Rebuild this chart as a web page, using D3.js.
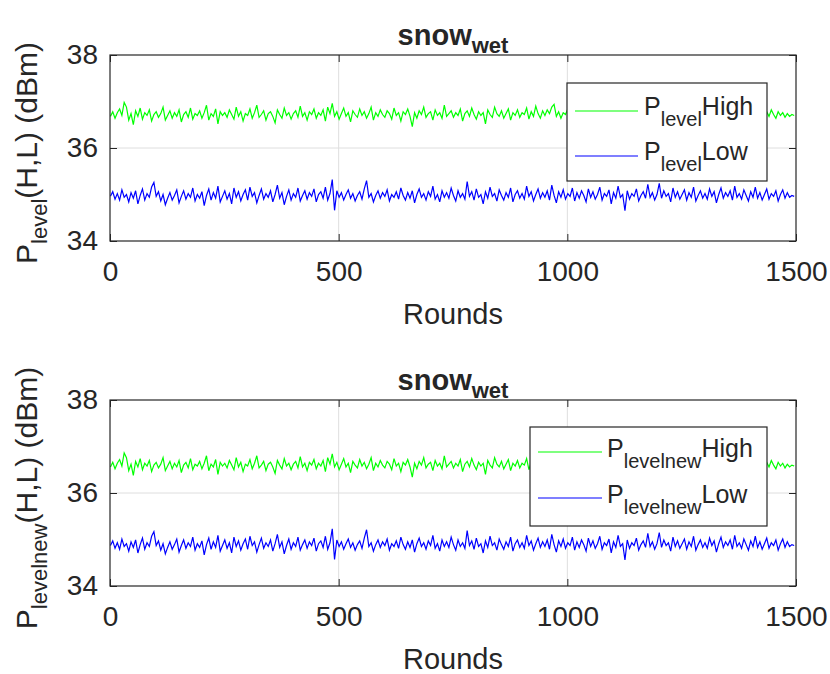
<!DOCTYPE html>
<html><head><meta charset="utf-8">
<script src="https://cdn.jsdelivr.net/npm/d3@7"></script>
<style>
body{margin:0;background:#fff}
text{font-family:"Liberation Sans",Arial,Helvetica,sans-serif;fill:#262626}
</style>
</head><body>
<svg id="chart" width="830" height="674"></svg>
<script>
// ---------- DATA (one sample every 5 rounds) ----------
const xTicks = [0, 500, 1000, 1500];
const yTicks = [34, 36, 38];
const titleMain = "snow", titleSub = "wet";
const xLabel = "Rounds";

const highTop = [
36.68,36.78,36.64,36.76,36.84,36.70,36.98,36.88,36.60,36.74,
36.50,36.80,36.68,36.86,36.62,36.76,36.70,36.82,36.58,36.72,
36.78,36.66,36.74,36.88,36.60,36.70,36.80,36.64,36.76,36.68,
36.82,36.56,36.72,36.78,36.66,36.86,36.62,36.74,36.70,36.80,
36.64,36.76,36.92,36.60,36.74,36.68,36.84,36.52,36.78,36.70,
36.76,36.66,36.82,36.72,36.62,36.88,36.68,36.78,36.58,36.74,
36.70,36.84,36.64,36.76,36.92,36.66,36.72,36.80,36.60,36.74,
36.78,36.68,36.54,36.82,36.72,36.64,36.86,36.70,36.76,36.62,
36.74,36.80,36.66,36.90,36.68,36.76,36.60,36.78,36.72,36.84,
36.64,36.76,36.70,36.82,36.58,36.88,36.74,36.96,36.68,36.78,
36.62,36.74,36.86,36.68,36.76,36.56,36.80,36.72,36.66,36.84,
36.70,36.78,36.64,36.74,36.88,36.60,36.76,36.68,36.82,36.72,
36.66,36.80,36.74,36.62,36.86,36.70,36.76,36.58,36.78,36.72,
36.84,36.68,36.46,36.76,36.64,36.80,36.72,36.88,36.66,36.74,
36.78,36.60,36.82,36.70,36.76,36.64,36.92,36.68,36.74,36.80,
36.66,36.76,36.70,36.84,36.58,36.74,36.80,36.68,36.86,36.72,
36.62,36.78,36.70,36.76,36.52,36.82,36.72,36.66,36.88,36.74,
36.68,36.80,36.64,36.74,36.84,36.60,36.76,36.70,36.82,36.66,
36.76,36.72,36.86,36.62,36.78,36.68,36.90,36.74,36.64,36.80,
36.70,36.82,36.74,36.88,36.94,36.68,36.78,36.64,36.76,36.72,
36.84,36.60,36.74,36.68,36.80,36.70,36.76,36.54,36.82,36.72,
36.66,36.78,36.72,36.86,36.62,36.76,36.68,36.80,36.74,36.64,
36.82,36.70,36.76,36.60,36.88,36.72,36.78,36.66,36.74,36.84,
36.68,36.76,36.62,36.80,36.72,36.86,36.64,36.74,36.78,36.70,
36.80,36.66,36.74,36.84,36.58,36.76,36.70,36.82,36.68,36.78,
36.72,36.88,36.64,36.76,36.70,36.80,36.62,36.74,36.86,36.68,
36.76,36.70,36.82,36.60,36.78,36.72,36.84,36.66,36.74,36.80,
36.68,36.76,36.64,36.86,36.72,36.78,36.62,36.82,36.70,36.74,
36.80,36.66,36.76,36.70,36.84,36.60,36.74,36.78,36.68,36.82,
36.72,36.64,36.78,36.70,36.76,36.66,36.74,36.68,36.72,36.70];

const lowTop = [
34.96,35.06,34.90,35.02,34.88,35.10,34.94,35.00,34.84,35.04,
34.92,35.08,34.80,34.98,35.12,34.88,35.02,34.94,35.16,35.26,
34.96,35.06,34.86,35.00,34.78,34.92,35.04,34.88,34.98,35.10,
34.82,34.96,35.08,34.90,35.02,34.94,35.14,34.86,35.00,34.92,
35.06,34.76,34.98,35.12,34.88,35.04,34.92,35.18,34.84,34.96,
35.08,34.90,35.02,34.80,35.14,34.94,35.06,34.86,35.00,35.10,
34.88,35.16,34.96,35.04,34.82,34.98,35.12,34.90,35.02,34.94,
35.08,34.84,35.00,35.20,34.92,35.04,34.78,34.96,35.10,34.88,
35.02,34.94,35.14,34.86,34.98,35.08,34.90,35.04,34.96,35.12,
34.84,35.00,35.06,34.92,35.16,34.88,35.02,35.32,34.66,35.08,
34.94,35.04,34.88,35.00,35.10,34.92,35.02,34.86,34.98,35.06,
34.90,35.12,35.30,34.94,35.02,34.84,34.98,35.08,34.92,35.04,
34.96,35.10,34.86,35.00,34.94,35.06,34.90,35.14,34.98,34.88,
35.04,34.92,35.08,34.82,35.00,35.12,34.94,35.02,34.88,35.06,
34.96,35.18,34.90,35.00,34.84,35.08,34.94,35.04,34.92,35.14,
34.98,34.86,35.08,34.94,35.02,34.90,35.28,34.96,35.06,34.88,
35.12,34.94,35.00,34.80,35.06,34.92,35.16,34.96,35.02,34.86,
35.10,34.98,34.88,35.04,34.94,35.14,34.84,35.00,35.08,34.92,
35.02,34.90,35.18,34.96,35.06,34.86,35.00,35.12,34.92,35.04,
34.94,35.08,34.88,35.20,34.98,34.82,35.06,34.94,35.10,34.90,
35.02,34.96,35.14,34.86,35.04,34.92,35.08,34.98,34.84,35.12,
34.94,35.06,34.90,35.00,35.16,34.88,35.02,34.96,35.10,34.80,
35.04,34.92,35.18,34.94,35.00,34.65,35.08,34.90,35.02,34.96,
35.12,34.86,34.98,35.06,34.92,35.22,34.94,35.04,34.88,35.00,
35.24,34.92,35.08,34.96,35.02,34.84,35.14,34.94,35.06,34.90,
35.00,35.10,34.88,35.04,34.94,35.16,34.86,34.98,35.08,34.92,
35.02,34.90,35.12,34.96,35.06,34.82,35.00,35.14,34.92,35.04,
34.96,35.08,34.88,35.18,34.94,35.02,34.90,35.10,34.98,34.86,
35.06,34.94,35.16,34.92,35.04,34.88,35.00,35.12,34.90,35.02,
34.96,35.08,34.86,35.00,35.10,34.92,35.04,34.94,34.98,34.96];

const highBottom = [
36.56,36.66,36.52,36.64,36.72,36.58,36.86,36.76,36.48,36.62,
36.38,36.68,36.56,36.74,36.50,36.64,36.58,36.70,36.46,36.60,
36.66,36.54,36.62,36.76,36.48,36.58,36.68,36.52,36.64,36.56,
36.70,36.44,36.60,36.66,36.54,36.74,36.50,36.62,36.58,36.68,
36.52,36.64,36.80,36.48,36.62,36.56,36.72,36.40,36.66,36.58,
36.64,36.54,36.70,36.60,36.50,36.76,36.56,36.66,36.46,36.62,
36.58,36.72,36.52,36.64,36.80,36.54,36.60,36.68,36.48,36.62,
36.66,36.56,36.42,36.70,36.60,36.52,36.74,36.58,36.64,36.50,
36.62,36.68,36.54,36.78,36.56,36.64,36.48,36.66,36.60,36.72,
36.52,36.64,36.58,36.70,36.46,36.76,36.62,36.84,36.56,36.66,
36.50,36.62,36.74,36.56,36.64,36.44,36.68,36.60,36.54,36.72,
36.58,36.66,36.52,36.62,36.76,36.48,36.64,36.56,36.70,36.60,
36.54,36.68,36.62,36.50,36.74,36.58,36.64,36.46,36.66,36.60,
36.72,36.56,36.34,36.64,36.52,36.68,36.60,36.76,36.54,36.62,
36.66,36.48,36.70,36.58,36.64,36.52,36.80,36.56,36.62,36.68,
36.54,36.64,36.58,36.72,36.46,36.62,36.68,36.56,36.74,36.60,
36.50,36.66,36.58,36.64,36.40,36.70,36.60,36.54,36.76,36.62,
36.56,36.68,36.52,36.62,36.72,36.48,36.64,36.58,36.70,36.54,
36.64,36.60,36.74,36.50,36.66,36.56,36.78,36.62,36.52,36.68,
36.58,36.70,36.62,36.76,36.82,36.56,36.66,36.52,36.64,36.60,
36.72,36.48,36.62,36.56,36.68,36.58,36.64,36.42,36.70,36.60,
36.54,36.66,36.60,36.74,36.50,36.64,36.56,36.68,36.62,36.52,
36.70,36.58,36.64,36.48,36.76,36.60,36.66,36.54,36.62,36.72,
36.56,36.64,36.50,36.68,36.60,36.74,36.52,36.62,36.66,36.58,
36.68,36.54,36.62,36.72,36.46,36.64,36.58,36.70,36.56,36.66,
36.60,36.76,36.52,36.64,36.58,36.68,36.50,36.62,36.74,36.56,
36.64,36.58,36.70,36.48,36.66,36.60,36.72,36.54,36.62,36.68,
36.56,36.64,36.52,36.74,36.60,36.66,36.50,36.70,36.58,36.62,
36.68,36.54,36.64,36.58,36.72,36.48,36.62,36.66,36.56,36.70,
36.60,36.52,36.66,36.58,36.64,36.54,36.62,36.56,36.60,36.58];

const lowBottom = [
34.87,34.97,34.81,34.93,34.79,35.01,34.85,34.91,34.75,34.95,
34.83,34.99,34.71,34.89,35.03,34.79,34.93,34.85,35.07,35.17,
34.87,34.97,34.77,34.91,34.69,34.83,34.95,34.79,34.89,35.01,
34.73,34.87,34.99,34.81,34.93,34.85,35.05,34.77,34.91,34.83,
34.97,34.67,34.89,35.03,34.79,34.95,34.83,35.09,34.75,34.87,
34.99,34.81,34.93,34.71,35.05,34.85,34.97,34.77,34.91,35.01,
34.79,35.07,34.87,34.95,34.73,34.89,35.03,34.81,34.93,34.85,
34.99,34.75,34.91,35.11,34.83,34.95,34.69,34.87,35.01,34.79,
34.93,34.85,35.05,34.77,34.89,34.99,34.81,34.95,34.87,35.03,
34.75,34.91,34.97,34.83,35.07,34.79,34.93,35.23,34.57,34.99,
34.85,34.95,34.79,34.91,35.01,34.83,34.93,34.77,34.89,34.97,
34.81,35.03,35.21,34.85,34.93,34.75,34.89,34.99,34.83,34.95,
34.87,35.01,34.77,34.91,34.85,34.97,34.81,35.05,34.89,34.79,
34.95,34.83,34.99,34.73,34.91,35.03,34.85,34.93,34.79,34.97,
34.87,35.09,34.81,34.91,34.75,34.99,34.85,34.95,34.83,35.05,
34.89,34.77,34.99,34.85,34.93,34.81,35.19,34.87,34.97,34.79,
35.03,34.85,34.91,34.71,34.97,34.83,35.07,34.87,34.93,34.77,
35.01,34.89,34.79,34.95,34.85,35.05,34.75,34.91,34.99,34.83,
34.93,34.81,35.09,34.87,34.97,34.77,34.91,35.03,34.83,34.95,
34.85,34.99,34.79,35.11,34.89,34.73,34.97,34.85,35.01,34.81,
34.93,34.87,35.05,34.77,34.95,34.83,34.99,34.89,34.75,35.03,
34.85,34.97,34.81,34.91,35.07,34.79,34.93,34.87,35.01,34.71,
34.95,34.83,35.09,34.85,34.91,34.56,34.99,34.81,34.93,34.87,
35.03,34.77,34.89,34.97,34.83,35.13,34.85,34.95,34.79,34.91,
35.15,34.83,34.99,34.87,34.93,34.75,35.05,34.85,34.97,34.81,
34.91,35.01,34.79,34.95,34.85,35.07,34.77,34.89,34.99,34.83,
34.93,34.81,35.03,34.87,34.97,34.73,34.91,35.05,34.83,34.95,
34.87,34.99,34.79,35.09,34.85,34.93,34.81,35.01,34.89,34.77,
34.97,34.85,35.07,34.83,34.95,34.79,34.91,35.03,34.81,34.93,
34.87,34.99,34.77,34.91,35.01,34.83,34.95,34.85,34.89,34.87];

const rounds = highTop.map((_, i) => 1 + i * 5);

// ---------- DRAWING ----------
const svg = d3.select("#chart");
const INK = "#262626";
const FONT = '"Liberation Sans",Arial,Helvetica,sans-serif';

const panels = [
  {top: 55, bottom: 241, sub: "level", high: highTop, low: lowTop,
   legend: {x0: 567, x1: 767, y0: 83, y1: 181, lineX0: 575, lineX1: 638, textX: 644, rows: [111, 156], dy: 4}},
  {top: 400, bottom: 586, sub: "levelnew", high: highBottom, low: lowBottom,
   legend: {x0: 530, x1: 767, y0: 427, y1: 526, lineX0: 538, lineX1: 602, textX: 607, rows: [452, 498], dy: 5}}
];
const left = 110, right = 796;

panels.forEach(p => {
  const g = svg.append("g");
  const x = d3.scaleLinear().domain([0, 1500]).range([left, right]);
  const y = d3.scaleLinear().domain([34, 38]).range([p.bottom, p.top]);

  // grid
  g.append("g").selectAll("line").data(xTicks.slice(1, -1)).join("line")
    .attr("x1", d => x(d)).attr("x2", d => x(d)).attr("y1", p.top).attr("y2", p.bottom)
    .attr("stroke", "#dedede").attr("stroke-width", 1);
  g.append("g").selectAll("line").data(yTicks.slice(1, -1)).join("line")
    .attr("y1", d => y(d)).attr("y2", d => y(d)).attr("x1", left).attr("x2", right)
    .attr("stroke", "#dedede").attr("stroke-width", 1);

  // series
  const line = d3.line().x((d, i) => x(rounds[i])).y(d => y(d));
  g.append("path").datum(p.high).attr("d", line).attr("fill", "none")
    .attr("stroke", "#00ff00").attr("stroke-width", 1.2);
  g.append("path").datum(p.low).attr("d", line).attr("fill", "none")
    .attr("stroke", "#0000ff").attr("stroke-width", 1.2);

  // axes (ticks inward, box)
  const tl = 7;
  const xb = d3.axisBottom(x).tickValues(xTicks).tickSize(-tl).tickPadding(20).tickFormat(d3.format("d"));
  const xt = d3.axisTop(x).tickValues(xTicks).tickSize(-tl).tickFormat("");
  const yl = d3.axisLeft(y).tickValues(yTicks).tickSize(-tl).tickPadding(12).tickFormat(d3.format("d"));
  const yr = d3.axisRight(y).tickValues(yTicks).tickSize(-tl).tickFormat("");
  const styleAxis = a => {
    a.select(".domain").remove();
    a.selectAll("line").attr("stroke", INK);
    a.selectAll("text").attr("font-size", 28).attr("fill", INK).attr("font-family", FONT);
  };
  g.append("g").attr("transform", `translate(0,${p.bottom})`).call(xb).call(styleAxis);
  g.append("g").attr("transform", `translate(0,${p.top})`).call(xt).call(styleAxis);
  g.append("g").attr("transform", `translate(${left},0)`).call(yl).call(styleAxis);
  g.append("g").attr("transform", `translate(${right},0)`).call(yr).call(styleAxis);
  g.append("rect").attr("x", left).attr("y", p.top).attr("width", right - left).attr("height", p.bottom - p.top)
    .attr("fill", "none").attr("stroke", INK).attr("stroke-width", 1.2);

  // title
  const t = g.append("text").attr("x", (left + right) / 2).attr("y", p.top - 10)
    .attr("text-anchor", "middle").attr("font-weight", "bold").attr("font-size", 29);
  t.append("tspan").text(titleMain);
  t.append("tspan").attr("font-size", 22).attr("dy", 8).text(titleSub);

  // x label
  g.append("text").attr("x", (left + right) / 2).attr("y", p.bottom + 83)
    .attr("text-anchor", "middle").attr("font-size", 29).text(xLabel);

  // y label
  const yt = g.append("text")
    .attr("transform", `translate(37,${(p.top + p.bottom) / 2 + 5}) rotate(-90)`)
    .attr("text-anchor", "middle").attr("font-size", 30);
  yt.append("tspan").text("P");
  yt.append("tspan").attr("font-size", 22).attr("dy", 10).text(p.sub);
  yt.append("tspan").attr("dy", -10).text("(H,L) (dBm)");

  // legend
  const L = p.legend;
  g.append("rect").attr("x", L.x0).attr("y", L.y0).attr("width", L.x1 - L.x0).attr("height", L.y1 - L.y0)
    .attr("fill", "#fff").attr("stroke", INK).attr("stroke-width", 1.2);
  const items = [{c: "#00ff00", name: "High"}, {c: "#0000ff", name: "Low"}];
  items.forEach((it, k) => {
    const ry = L.rows[k];
    g.append("line").attr("x1", L.lineX0).attr("x2", L.lineX1).attr("y1", ry).attr("y2", ry)
      .attr("stroke", it.c).attr("stroke-width", 1.2);
    const lt = g.append("text").attr("x", L.textX).attr("y", ry + L.dy).attr("font-size", 25);
    lt.append("tspan").text("P");
    lt.append("tspan").attr("font-size", 20).attr("dy", 11).text(p.sub);
    lt.append("tspan").attr("dy", -11).text(it.name);
  });
});
</script>
</body></html>
